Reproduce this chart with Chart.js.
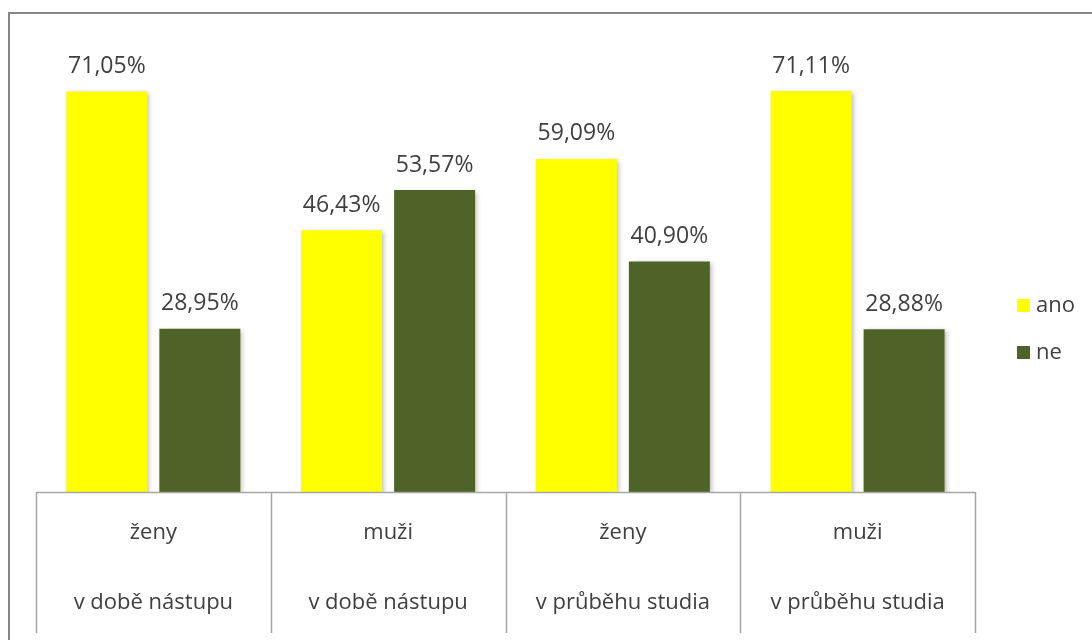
<!DOCTYPE html>
<html>
<head>
<meta charset="utf-8">
<script src="https://cdn.jsdelivr.net/npm/chart.js@4/dist/chart.umd.min.js"></script>
<style>
html,body{margin:0;padding:0;background:#fff;}
#wrap{position:relative;width:1092px;height:640px;}
</style>
</head>
<body>
<div id="wrap"><canvas id="c" width="1092" height="640"></canvas></div>
<script>
const catTop = ['ženy', 'muži', 'ženy', 'muži'];
const catBottom = ['v době nástupu', 'v době nástupu', 'v průběhu studia', 'v průběhu studia'];
const seriesNames = ['ano', 'ne'];
const anoValues = [71.05, 46.43, 59.09, 71.11];
const neValues = [28.95, 53.57, 40.90, 28.88];
const seriesColors = ['#FFFF00', '#4F6228'];

const FONT = '"Open Sans", "DejaVu Sans", sans-serif';
const TEXT = '#404040';
const LINE = '#A6A6A6';

function fmt(v){ return v.toFixed(2).replace('.', ',') + '%'; }

const decor = {
  id: 'decor',
  beforeDraw(chart){
    const ctx = chart.ctx;
    ctx.save();
    ctx.fillStyle = '#fff';
    ctx.fillRect(0,0,chart.width,chart.height);
    ctx.strokeStyle = '#868686';
    ctx.lineWidth = 2;
    ctx.beginPath();
    ctx.moveTo(9, 640);
    ctx.lineTo(9, 13);
    ctx.lineTo(1092, 13);
    ctx.stroke();
    ctx.restore();
  },
  beforeDatasetsDraw(chart){
    const ctx = chart.ctx;
    ctx.save();
    ctx.shadowColor = 'rgba(0,0,0,0.28)';
    ctx.shadowBlur = 5;
    ctx.shadowOffsetX = 2;
    ctx.shadowOffsetY = 2;
  },
  afterDatasetsDraw(chart){
    const ctx = chart.ctx;
    ctx.restore();
    ctx.save();
    ctx.font = '23px ' + FONT;
    ctx.fillStyle = TEXT;
    ctx.textAlign = 'center';
    ctx.textBaseline = 'middle';
    chart.data.datasets.forEach((ds, di) => {
      const meta = chart.getDatasetMeta(di);
      meta.data.forEach((bar, i) => {
        ctx.fillText(fmt(ds.data[i]), bar.x, bar.y - 25);
      });
    });
    ctx.restore();
  },
  afterDraw(chart){
    const ctx = chart.ctx;
    const xs = chart.scales.x;
    const area = chart.chartArea;
    const n = chart.data.labels.length;
    const w = (area.right - area.left) / n;
    ctx.save();
    ctx.strokeStyle = LINE;
    ctx.lineWidth = 1.5;
    ctx.beginPath();
    ctx.moveTo(area.left, area.bottom + 0.5);
    ctx.lineTo(area.right, area.bottom + 0.5);
    for (let i = 0; i <= n; i++) {
      const x = Math.round(area.left + i * w) + 0.5;
      ctx.moveTo(x, area.bottom);
      ctx.lineTo(x, 633);
    }
    ctx.stroke();
    ctx.font = '22px ' + FONT;
    ctx.fillStyle = TEXT;
    ctx.textAlign = 'center';
    ctx.textBaseline = 'middle';
    for (let i = 0; i < n; i++) {
      const cx = xs.getPixelForValue(i);
      ctx.fillText(catTop[i], cx, 533);
      ctx.fillText(catBottom[i], cx, 603);
    }
    chart.data.datasets.forEach((ds, di) => {
      const y = 306 + di * 47;
      ctx.fillStyle = ds.backgroundColor;
      ctx.fillRect(1017, y - 7, 13, 13);
      ctx.fillStyle = TEXT;
      ctx.textAlign = 'left';
      ctx.fillText(ds.label, 1036, y);
    });
    ctx.restore();
  }
};

new Chart(document.getElementById('c'), {
  type: 'bar',
  data: {
    labels: catTop.map((t, i) => t + ' ' + catBottom[i]),
    datasets: [
      { label: seriesNames[0], data: anoValues, backgroundColor: seriesColors[0] },
      { label: seriesNames[1], data: neValues, backgroundColor: seriesColors[1] }
    ]
  },
  options: {
    responsive: false,
    animation: false,
    devicePixelRatio: 1,
    layout: { padding: { left: 36, right: 117, top: 41, bottom: 148 } },
    datasets: { bar: { categoryPercentage: 0.792, barPercentage: 0.871 } },
    scales: {
      x: { display: false },
      y: { display: false, min: 0, max: 80 }
    },
    plugins: { legend: { display: false }, tooltip: { enabled: false } }
  },
  plugins: [decor]
});
</script>
</body>
</html>
